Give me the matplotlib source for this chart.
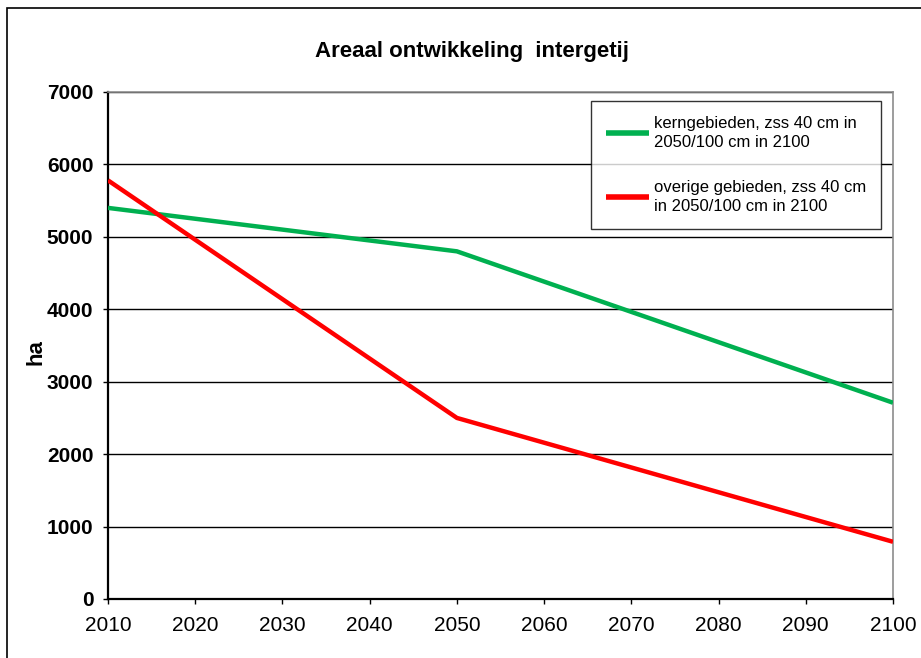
import matplotlib

matplotlib.use("Agg")

import matplotlib.pyplot as plt
from matplotlib.patches import Rectangle

plt.rcParams["font.family"] = ["Liberation Sans", "DejaVu Sans"]

# --- Data ---
YEARS = [2010, 2050, 2100]
KERN = [5400, 4800, 2710]
OVERIG = [5780, 2500, 790]
LABEL_KERN = "kerngebieden, zss 40 cm in\n2050/100 cm in 2100"
LABEL_OVERIG = "overige gebieden, zss 40 cm\nin 2050/100 cm in 2100"
XTICKS = list(range(2010, 2101, 10))
YTICKS = list(range(0, 7001, 1000))

W, H = 921, 658
fig = plt.figure(figsize=(W / 100, H / 100), dpi=100)
ax = fig.add_axes([108 / W, 1 - 599 / H, (893 - 108) / W, (599 - 92) / H])

# outer chart border (cropped at right/bottom)
fig.patches.append(Rectangle((7 / W, -0.1), 1.2, 1 - 8 / H + 0.1,
                             transform=fig.transFigure, fill=False,
                             edgecolor="black", linewidth=1.2))

ax.plot(YEARS, KERN, color="#00B050", linewidth=3.2, label=LABEL_KERN,
        solid_capstyle="butt", zorder=3)
ax.plot(YEARS, OVERIG, color="#FF0000", linewidth=3.2, label=LABEL_OVERIG,
        solid_capstyle="butt", zorder=3)

ax.set_xlim(2010, 2100)
ax.set_ylim(0, 7000)
ax.set_xticks(XTICKS)
ax.set_yticks(YTICKS)
ax.set_yticklabels([str(v) for v in YTICKS], fontsize=15, fontweight="bold")
ax.set_xticklabels([str(v) for v in XTICKS], fontsize=15)
ax.tick_params(axis="both", direction="out", length=3.6, width=1, color="black")
ax.tick_params(axis="y", pad=7)
ax.tick_params(axis="x", pad=8.5)

ax.grid(axis="y", color="black", linewidth=1.0)
ax.set_axisbelow(True)
for side in ("top", "right"):
    ax.spines[side].set_color("#8c8c8c")
    ax.spines[side].set_linewidth(1.2)
for side in ("left", "bottom"):
    ax.spines[side].set_color("black")
    ax.spines[side].set_linewidth(1.6)

fig.text(36 / W, 1 - 352 / H, "ha", rotation=90, ha="center", va="center",
         fontsize=16, fontweight="bold")
fig.text(472 / W, 1 - 52 / H, "Areaal ontwikkeling  intergetij",
         ha="center", va="center", fontsize=16, fontweight="bold")

leg = ax.legend(loc="upper left", bbox_to_anchor=(591 / W, 1 - 101 / H),
                bbox_transform=fig.transFigure, fontsize=12, frameon=True,
                fancybox=False, edgecolor="black", handlelength=2.55,
                handletextpad=0.3, labelspacing=1.85, borderpad=0.9,
                borderaxespad=0)
leg.get_frame().set_linewidth(1.0)
for line in leg.get_lines():
    line.set_linewidth(4)
for txt in leg.get_texts():
    txt.set_linespacing(1.3)

fig.savefig("out.png", dpi=100, facecolor="white")
